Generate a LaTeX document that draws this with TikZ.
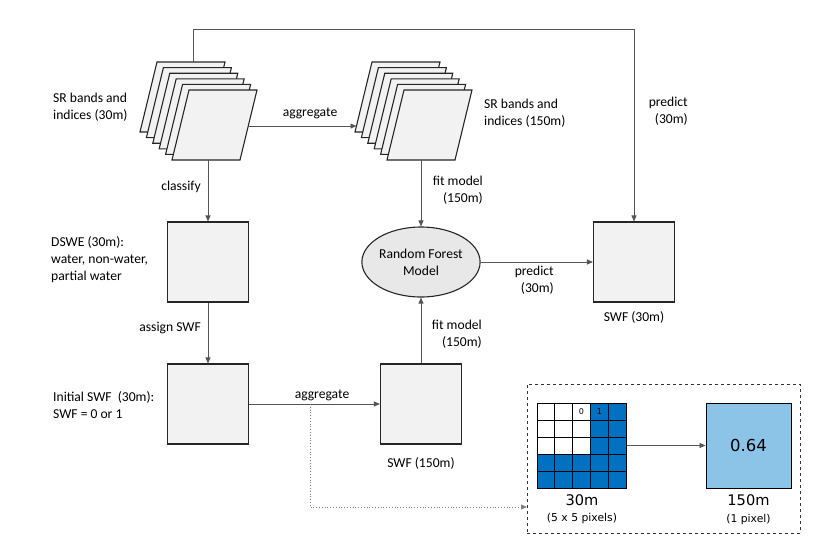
\documentclass[tikz,border=0pt]{standalone}
\usepackage{fontspec}
\setmainfont{Carlito}
\newfontfamily\gridfont{DejaVu Sans}
\usetikzlibrary{shapes.geometric,arrows.meta}

\definecolor{boxGray}{RGB}{242,242,242}
\definecolor{ellGray}{RGB}{232,232,232}
\definecolor{lineGray}{RGB}{85,85,85}
\definecolor{pixelBlue}{RGB}{0,112,192}
\definecolor{lightBlue}{RGB}{140,196,232}

\begin{document}
\begin{tikzpicture}
    [x = 1pt, y = -1pt,
     font = \fontsize{13.6}{17}\selectfont,
     labelNode/.style = {inner sep = 0pt, align = left},
     rightLabel/.style = {inner sep = 0pt, align = right, anchor = east},
     boxNode/.style = {draw = black!85, fill = boxGray, line width = 1.1pt,
                       minimum width = 81pt, minimum height = 80pt,
                       inner sep = 0pt},
     layerPath/.style = {draw = black!85, fill = boxGray, line width = 1.1pt},
     modelNode/.style = {ellipse, draw = black!85, fill = ellGray,
                         line width = 1.1pt, minimum width = 115pt,
                         minimum height = 70pt, inner sep = 0pt,
                         align = center},
     connector/.style = {draw = lineGray, line width = 0.8pt,
                         -{Triangle[length = 6pt, width = 5pt]}},
     dottedConnector/.style = {connector, draw = black!50, dotted},
     zoomFrame/.style = {draw = black!80, dashed, line width = 1pt,
                         minimum width = 273pt, minimum height = 149pt,
                         inner sep = 0pt},
     gridLine/.style = {draw = black, line width = 0.9pt},
     digitNode/.style = {inner sep = 0pt, font = \gridfont\fontsize{8}{9}\selectfont},
     pixelText/.style = {inner sep = 0pt, font = \gridfont\fontsize{14.6}{17}\selectfont},
     pixelNote/.style = {inner sep = 0pt, font = \gridfont\fontsize{10.8}{13}\selectfont}]

    \useasboundingbox (0,0) rectangle (825,547);

    \foreach \k in {0,...,5}
      \draw [layerPath, shift = {(6.4*\k,5.6*\k)}]
        (157,62) -- ++(68,0) -- ++(-17,70) -- ++(-68,0) -- cycle;
    \foreach \k in {0,...,5}
      \draw [layerPath, shift = {(6.4*\k,5.6*\k)}]
        (372,62) -- ++(68,0) -- ++(-17,70) -- ++(-68,0) -- cycle;

    \coordinate (srTop)          at (193,62);
    \coordinate (topCorner)      at (193,29);
    \coordinate (srFrontRight)   at (248,126);
    \coordinate (srFrontBottom)  at (208,160);
    \coordinate (srCoarseLeft)   at (356.5,126);
    \coordinate (srCoarseBottom) at (421,160);
    \coordinate (splitPoint)     at (310,404);
    \coordinate (zoomEntry)      at (527,507);

    \node at (53,107)   [labelNode, anchor = west] (srLabel)
      {SR bands and\\indices (30m)};
    \node at (484,113.5) [labelNode, anchor = west] (srCoarseLabel)
      {SR bands and\\indices (150m)};
    \node at (310,113)  [labelNode] (aggTop) {aggregate};
    \node at (688,111.5) [rightLabel] (predictTop) {predict\\(30m)};
    \node at (201,187)  [rightLabel] (classifyLabel) {classify};
    \node at (483,190)  [rightLabel] (fitTop) {fit model\\(150m)};

    \node at (208,262)  [boxNode]   (dswe) {};
    \node at (51,260)   [labelNode, anchor = west] (dsweLabel)
      {DSWE (30m):\\water, non-water,\\partial water};
    \node at (421,262)  [modelNode] (rfModel) {Random Forest\\Model};
    \node at (634,262)  [boxNode]   (swfFine) {};
    \node at (634,317)  [labelNode] (swfFineLabel) {SWF (30m)};
    \node at (554,280.5) [rightLabel] (predictMid) {predict\\(30m)};

    \node at (201,328)  [rightLabel] (assignLabel) {assign SWF};
    \node at (482,334)  [rightLabel] (fitBottom) {fit model\\(150m)};

    \node at (208,404)  [boxNode]   (initSWF) {};
    \node at (53,405)   [labelNode, anchor = west] (initLabel)
      {Initial SWF\ \ (30m):\\SWF = 0 or 1};
    \node at (421,404)  [boxNode]   (swfCoarse) {};
    \node at (421,463)  [labelNode] (swfCoarseLabel) {SWF (150m)};
    \node at (322,395)  [labelNode] (aggBottom) {aggregate};

    \node at (663.5,458.5) [zoomFrame] (zoomBox) {};

    \fill [pixelBlue] (537,403) rectangle (626,488);
    \fill [white] (537,403) rectangle (590.4,454);
    \foreach \i in {0,...,5} {
      \draw [gridLine] (537+17.8*\i,403) -- (537+17.8*\i,488);
      \draw [gridLine] (537,403+17*\i) -- (626,403+17*\i);
    }
    \node at (581.5,445.5) [draw, line width = 1pt, minimum width = 89pt,
                            minimum height = 85pt, inner sep = 0pt] (pixelGrid) {};
    \node at (581.5,411.5) [digitNode] (zeroCell) {0};
    \node at (599.3,411.5) [digitNode] (oneCell) {1};
    \node at (582,500)  [pixelText] (fineRes) {30m};
    \node at (582,519)  [pixelNote] (fineCount) {(5 x 5 pixels)};

    \node at (748.5,445.5) [draw, line width = 1pt, fill = lightBlue,
                            minimum size = 85pt, inner sep = 0pt,
                            font = \gridfont\fontsize{16.5}{19}\selectfont]
      (coarsePixel) {0.64};
    \node at (748.5,500) [pixelText] (coarseRes) {150m};
    \node at (748.5,520) [pixelNote] (coarseCount) {(1 pixel)};

    \path
      (srFrontRight) edge [connector] (srCoarseLeft)
      (srFrontBottom) edge [connector] (dswe)
      (srCoarseBottom) edge [connector] (rfModel)
      (dswe) edge [connector] (initSWF)
      (initSWF) edge [connector] (swfCoarse)
      (swfCoarse) edge [connector] (rfModel)
      (rfModel) edge [connector] (swfFine)
      (pixelGrid) edge [connector] (coarsePixel);

    \draw [connector] (srTop) -- (topCorner) -| (swfFine);
    \draw [dottedConnector] (splitPoint) |- (zoomEntry);
\end{tikzpicture}
\end{document}
